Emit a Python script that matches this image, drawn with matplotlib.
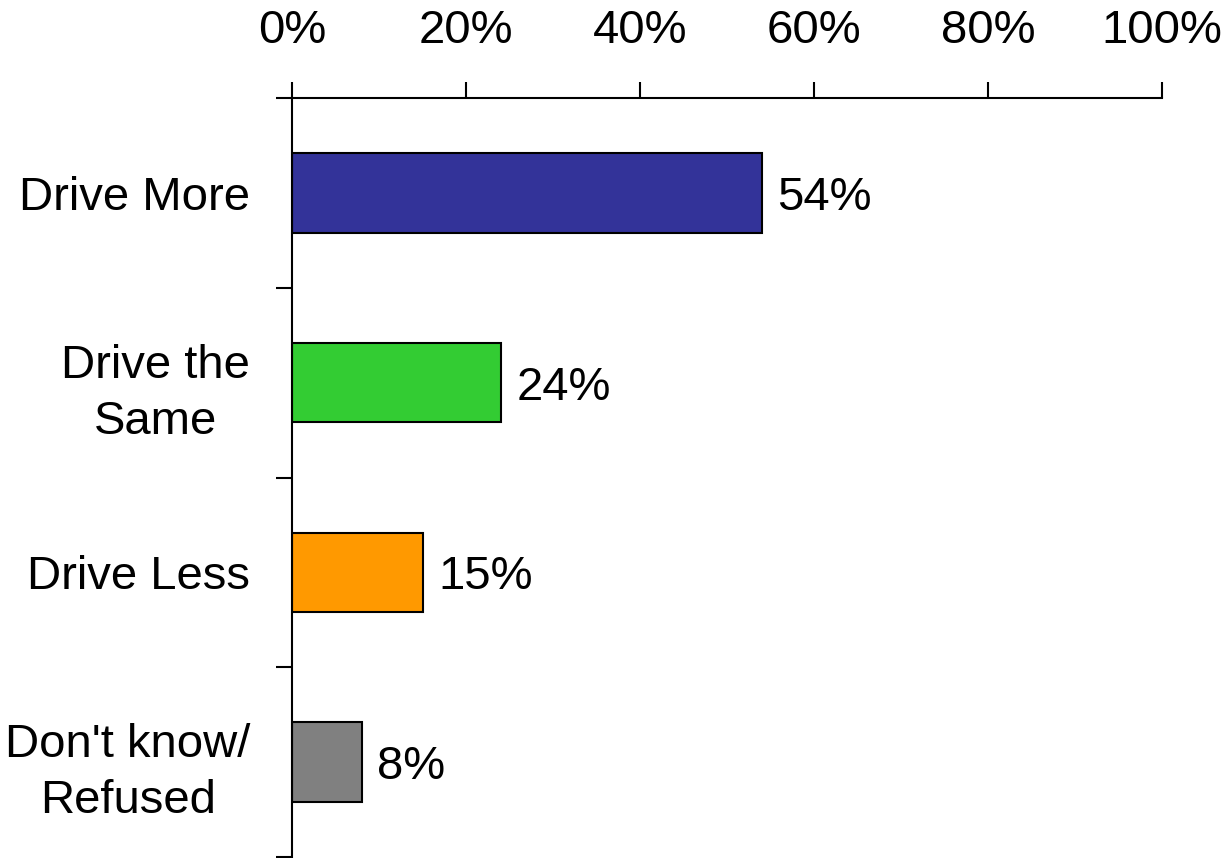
import numpy as np
import matplotlib.pyplot as plt

plt.rcParams['font.family'] = ['Liberation Sans', 'DejaVu Sans']

categories = ['Drive More', 'Drive the\nSame', 'Drive Less', "Don't know/\nRefused"]
values = [54, 24, 15, 8]
colors = ['#333399', '#33CC33', '#FF9900', '#808080']

fig = plt.figure(figsize=(12.32, 8.58), dpi=100)
ax = fig.add_axes([292 / 1232, 1 - 857 / 858, (1162 - 292) / 1232, (857 - 98) / 858])

y = np.arange(len(categories))
bars = ax.barh(y, values, height=0.42, color=colors, edgecolor='black', linewidth=1.5)

for b, v in zip(bars, values):
    ax.text(v + 1.8, b.get_y() + b.get_height() / 2, f'{v}%',
            va='center_baseline', ha='left', fontsize=34)

ax.set_xlim(0, 100)
ax.set_ylim(len(categories) - 0.5, -0.5)

# percentage axis on top
ax.xaxis.tick_top()
ax.set_xticks(np.arange(0, 101, 20))
ax.set_xticklabels([f'{t}%' for t in range(0, 101, 20)])
ax.tick_params(axis='x', direction='out', length=11.5, width=1.5, labelsize=34, pad=21)

# boundary ticks between categories, labels at the centres
ax.set_yticks(np.arange(-0.5, len(categories), 1.0))
ax.set_yticklabels([])
ax.tick_params(axis='y', which='major', direction='out', length=11.5, width=1.5)
ax.set_yticks(y, categories, minor=True)
ax.tick_params(axis='y', which='minor', length=0, labelsize=34, pad=30)
for lab in ax.get_yticklabels(minor=True):
    lab.set_multialignment('center')
    lab.set_linespacing(1.35)

ax.spines['right'].set_visible(False)
ax.spines['bottom'].set_visible(False)
ax.spines['top'].set_linewidth(1.5)
ax.spines['left'].set_linewidth(1.5)

fig.savefig('out.png', dpi=100)
